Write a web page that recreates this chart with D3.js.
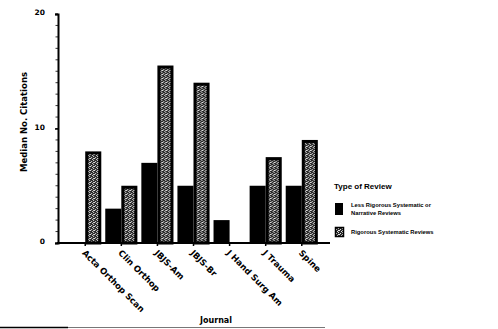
<!DOCTYPE html>
<html>
<head>
<meta charset="utf-8">
<script src="https://cdn.jsdelivr.net/npm/d3@7"></script>
<style>
  html, body { margin: 0; padding: 0; background: #fff; }
  svg { display: block; }
  text { font-family: "DejaVu Sans", Arial, Helvetica, sans-serif; font-weight: bold; fill: #000; }
  .narrow { font-family: "Liberation Sans", Arial, Helvetica, sans-serif; }
</style>
</head>
<body>
<svg id="chart" width="498" height="329"></svg>
<script>
// Median number of citations by journal and type of review
const journals = ["Acta Orthop Scan", "Clin Orthop", "JBJS-Am", "JBJS-Br", "J Hand Surg Am", "J Trauma", "Spine"];
const lessRigorous = [0, 3, 7, 5, 2, 5, 5];
const rigorous = [8, 5, 15.5, 14, 0, 7.5, 9];
const seriesNames = ["Less Rigorous Systematic or\nNarrative Reviews", "Rigorous Systematic Reviews"];
const yTicks = [0, 10, 20];

const svg = d3.select("#chart");

// hatched fill for the rigorous series
const defs = svg.append("defs");
const pat = defs.append("pattern")
  .attr("id", "hatch")
  .attr("patternUnits", "userSpaceOnUse")
  .attr("width", 4).attr("height", 4);
pat.append("rect").attr("width", 4).attr("height", 4).attr("fill", "#2a2a2a");
[[0,0],[2,1],[1,2],[3,3],[0,2]].forEach(([x, y]) => {
  pat.append("rect").attr("x", x).attr("y", y).attr("width", 1).attr("height", 1).attr("fill", "#e0e0e0");
});

const y = d3.scaleLinear().domain([0, 20]).range([243, 14]);
const x0 = d3.scaleBand().domain(journals).range([67, 320]).paddingInner(0.11).paddingOuter(0.06);
const x1 = d3.scaleBand().domain([0, 1]).range([0, x0.bandwidth()]);

// y axis
const yAxis = d3.axisLeft(y).tickValues(yTicks).tickSize(3).tickPadding(10);
const gy = svg.append("g").attr("transform", "translate(58,0)").call(yAxis);
gy.select(".domain").attr("stroke-width", 2);
gy.selectAll(".tick text").style("font-size", "7.5px").style("font-family", "DejaVu Sans").attr("dy", "0.1em");
gy.selectAll(".tick line").attr("stroke-width", 1.5);
// minor ticks
svg.append("g").selectAll("line").data(d3.range(0, 21, 1)).join("line")
  .attr("x1", 55.5).attr("x2", 58)
  .attr("y1", d => y(d)).attr("y2", d => y(d))
  .attr("stroke", "#000").attr("stroke-width", 0.8);

// bars
const groups = svg.append("g").selectAll("g").data(journals).join("g")
  .attr("transform", d => `translate(${x0(d)},0)`);
groups.append("rect")
  .attr("x", x1(0)).attr("width", x1.bandwidth())
  .attr("y", (d, i) => y(lessRigorous[i]))
  .attr("height", (d, i) => y(0) - y(lessRigorous[i]))
  .attr("fill", "#000");
groups.append("rect")
  .attr("x", x1(1) + 1.5).attr("width", x1.bandwidth() - 3)
  .attr("y", (d, i) => y(rigorous[i]) + 1.5)
  .attr("height", (d, i) => Math.max(0, y(0) - y(rigorous[i]) - 1.5))
  .attr("fill", "url(#hatch)")
  .attr("stroke", "#000").attr("stroke-width", 3);

// x axis
const xAxis = d3.axisBottom(x0).tickSize(3).tickSizeOuter(0).tickPadding(4);
const gx = svg.append("g").attr("transform", `translate(0,${y(0)})`).call(xAxis);
gx.select(".domain").remove();
gx.selectAll(".tick line").attr("stroke-width", 1.5);
gx.selectAll(".tick text")
  .style("font-size", "8.5px")
  .style("font-family", "DejaVu Sans")
  .attr("text-anchor", "start")
  .attr("transform", "translate(1,6) rotate(45)")
  .attr("dy", "0.75em")
  .attr("y", 0).attr("x", 0);
svg.append("line").attr("x1", 57).attr("x2", 330).attr("y1", y(0)).attr("y2", y(0))
  .attr("stroke", "#000").attr("stroke-width", 2);

// axis titles
svg.append("text")
  .attr("transform", "translate(27,122) rotate(-90)")
  .attr("text-anchor", "middle")
  .style("font-size", "8.5px")
  .text("Median No. Citations");
svg.append("text")
  .attr("x", 216).attr("y", 323)
  .attr("text-anchor", "middle")
  .style("font-size", "8px")
  .text("Journal");
// rule under the figure
svg.append("line").attr("x1", 0).attr("x2", 325).attr("y1", 327.5).attr("y2", 327.5)
  .attr("stroke", "#777").attr("stroke-width", 1);
svg.append("line").attr("x1", 0).attr("x2", 68).attr("y1", 327.5).attr("y2", 327.5)
  .attr("stroke", "#000").attr("stroke-width", 1.5);

// legend
const lg = svg.append("g").attr("transform", "translate(334,0)");
lg.append("text").attr("class", "narrow").attr("x", 0).attr("y", 189).style("font-size", "8px").text("Type of Review");
lg.append("rect").attr("x", 1).attr("y", 203).attr("width", 8).attr("height", 12).attr("fill", "#000");
const t1 = lg.append("text").attr("class", "narrow").attr("x", 17).attr("y", 207).style("font-size", "5.8px");
seriesNames[0].split("\n").forEach((s, i) => t1.append("tspan").attr("x", 17).attr("dy", i ? 8 : 0).text(s));
lg.append("rect").attr("x", 1.5).attr("y", 227.5).attr("width", 8).attr("height", 9)
  .attr("fill", "url(#hatch)").attr("stroke", "#000").attr("stroke-width", 1.5);
lg.append("text").attr("class", "narrow").attr("x", 17).attr("y", 234).style("font-size", "5.8px").text(seriesNames[1]);
</script>
</body>
</html>
